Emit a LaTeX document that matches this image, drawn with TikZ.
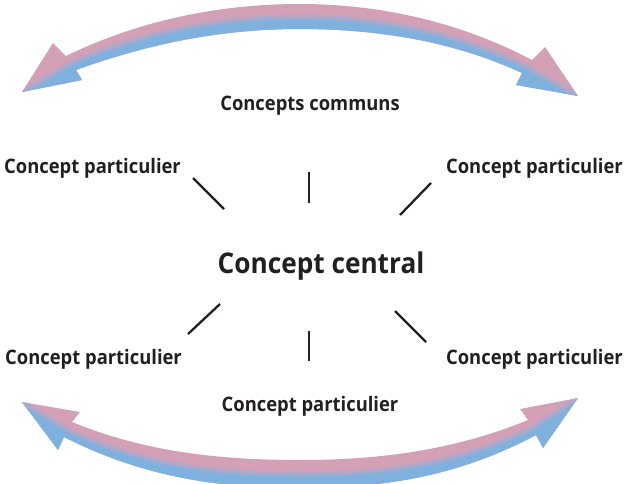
\documentclass[tikz,border=0pt]{standalone}
\usepackage{fontspec}
\setmainfont[FakeStretch=0.92]{Open Sans}
\definecolor{arrpink}{RGB}{212,160,182}
\definecolor{arrblue}{RGB}{126,177,222}
\definecolor{arrmid}{RGB}{172,170,204}
\definecolor{txt}{RGB}{35,31,32}
\tikzset{
  lbl/.style={text=txt, font=\bfseries\fontsize{20}{23}\selectfont, inner sep=0pt},
  bigl/.style={text=txt, font=\bfseries\fontsize{28.5}{32}\selectfont, inner sep=0pt},
  tick/.style={draw=txt, line width=2.3pt},
}
\begin{document}
\begin{tikzpicture}[x=1pt,y=-1pt]
\useasboundingbox (0,0) rectangle (628,483);
% top arrow
\begin{scope}
\clip (22,92) -- (53,43) -- (66,56) .. controls (140,20) and (220,4) .. (300,4) .. controls (380,4) and (460,22) .. (532,60) -- (545,47) -- (578,96) -- (516,85) -- (522,73) .. controls (455,42) and (380,29) .. (300,29) .. controls (220,29) and (148,44) .. (76,70) -- (82,80) -- cycle;
\fill[arrpink] (0,0) rectangle (628,120);
\fill[arrblue] (22,92) -- (71,63) .. controls (145,31) and (220,17) .. (300,17) .. controls (380,17) and (455,32) .. (527,67) -- (578,96) -- (640,96) -- (640,200) -- (-10,200) -- (-10,92) -- cycle;
\draw[arrmid, line width=5pt, opacity=0.8] (22,92) -- (71,63) .. controls (145,31) and (220,17) .. (300,17) .. controls (380,17) and (455,32) .. (527,67) -- (578,96);
\end{scope}
% bottom arrow
\begin{scope}
\clip (22,402) -- (80,412) -- (72,422) .. controls (145,452) and (220,460) .. (300,460) .. controls (380,460) and (455,450) .. (528,420) -- (520,409) -- (578,398) -- (543,448) -- (536,435) .. controls (455,478) and (380,488) .. (300,488) .. controls (220,488) and (145,478) .. (64,437) -- (58,450) -- cycle;
\fill[arrpink] (0,380) rectangle (628,500);
\fill[arrblue] (22,402) -- (68,430) .. controls (145,466) and (220,474) .. (300,474) .. controls (380,474) and (455,465) .. (532,428) -- (578,398) -- (640,398) -- (640,500) -- (-10,500) -- (-10,402) -- cycle;
\draw[arrmid, line width=5pt, opacity=0.8] (22,402) -- (68,430) .. controls (145,466) and (220,474) .. (300,474) .. controls (380,474) and (455,465) .. (532,428) -- (578,398);
\end{scope}
% texts
\node[lbl] (communs) at (310,106) {Concepts communs};
\node[bigl] (central) at (321,266) {Concept central};
\node[lbl, anchor=west] (tl) at (4,168) {Concept particulier};
\node[lbl, anchor=east] (tr) at (623,168) {Concept particulier};
\node[lbl, anchor=west] (bl) at (5,359) {Concept particulier};
\node[lbl, anchor=east] (br) at (623,359) {Concept particulier};
\node[lbl] (bc) at (310,406) {Concept particulier};
% ticks
\coordinate (a1) at (193,178); \coordinate (a2) at (224,209);
\coordinate (b1) at (309,172); \coordinate (b2) at (309,203);
\coordinate (c1) at (431,183); \coordinate (c2) at (400,215);
\coordinate (d1) at (188,334); \coordinate (d2) at (220,304);
\coordinate (e1) at (309,331); \coordinate (e2) at (309,361);
\coordinate (f1) at (395,311); \coordinate (f2) at (426,342);
\draw[tick] (a1) -- (a2);
\draw[tick] (b1) -- (b2);
\draw[tick] (c1) -- (c2);
\draw[tick] (d1) -- (d2);
\draw[tick] (e1) -- (e2);
\draw[tick] (f1) -- (f2);
\end{tikzpicture}
\end{document}
